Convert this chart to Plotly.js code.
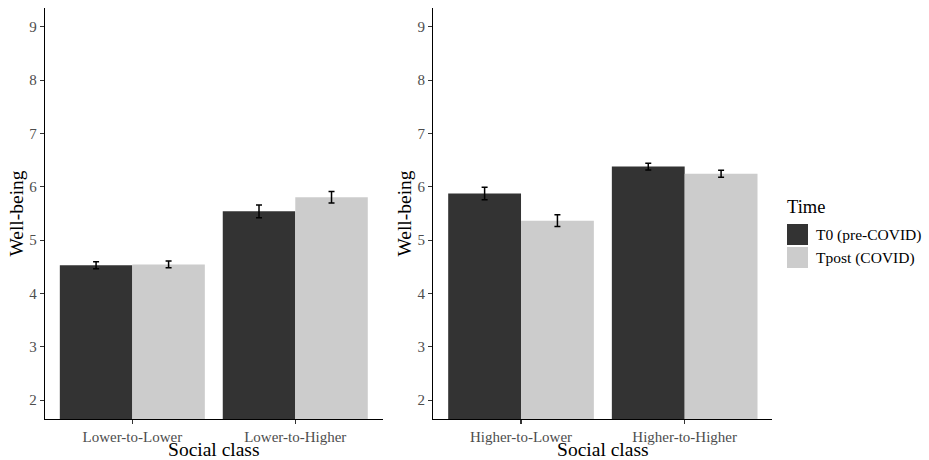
<!DOCTYPE html>
<html>
<head>
<meta charset="utf-8">
<script src="https://cdn.plot.ly/plotly-3.0.1.min.js"></script>
<style>html,body{margin:0;padding:0;background:#fff;}#chart{width:929px;height:460px;}</style>
</head>
<body>
<div id="chart"></div>
<script>
// Data
const leftCategories = ["Lower-to-Lower", "Lower-to-Higher"];
const rightCategories = ["Higher-to-Lower", "Higher-to-Higher"];
const seriesNames = ["T0 (pre-COVID)", "Tpost (COVID)"];
const leftT0 = [4.53, 5.54];
const leftT0Err = [0.066, 0.12];
const leftTpost = [4.545, 5.805];
const leftTpostErr = [0.065, 0.11];
const rightT0 = [5.875, 6.38];
const rightT0Err = [0.116, 0.062];
const rightTpost = [5.365, 6.245];
const rightTpostErr = [0.11, 0.066];
const yTicks = [2, 3, 4, 5, 6, 7, 8, 9];
const legendTitle = "Time";

const colors = ["#333333", "#CCCCCC"];
const FONT = "Liberation Serif, Times New Roman, serif";
const BASE = 1.645;
function heights(v) { return v.map(d => d - BASE); }

function barTrace(x, y, err, idx, xa, ya) {
  return {
    type: "bar", x: x, y: heights(y), name: seriesNames[idx], xaxis: xa, yaxis: ya,
    marker: {color: colors[idx], line: {width: 0}},
    base: BASE,
    showlegend: false,
    error_y: {type: "data", array: err, visible: true, color: "#000", thickness: 1.5, width: 3}
  };
}

const traces = [
  barTrace(leftCategories, leftT0, leftT0Err, 0, "x", "y"),
  barTrace(leftCategories, leftTpost, leftTpostErr, 1, "x", "y"),
  barTrace(rightCategories, rightT0, rightT0Err, 0, "x2", "y2"),
  barTrace(rightCategories, rightTpost, rightTpostErr, 1, "x2", "y2")
];

const yDom = [1 - 419/460, 1 - 8/460];
function xAxis(dom, anchor) {
  return {
    domain: dom, anchor: anchor, type: "category", range: [-0.536, 1.536],
    showline: true, linecolor: "#000", linewidth: 1.2,
    ticks: "outside", ticklen: 4, tickcolor: "#333", tickwidth: 1.1,
    tickfont: {family: FONT, size: 15, color: "#4D4D4D"},
    showgrid: false, zeroline: false,
    title: {text: "Social class", font: {family: FONT, size: 19.5, color: "#000"}, standoff: 0}
  };
}
function yAxis(anchor) {
  return {
    domain: yDom, anchor: anchor, range: [BASE, 9.355],
    tickvals: yTicks, ticktext: yTicks.map(String),
    showline: true, linecolor: "#000", linewidth: 1.2,
    ticks: "outside", ticklen: 4, tickcolor: "#333", tickwidth: 1.1,
    tickfont: {family: FONT, size: 15, color: "#4D4D4D"},
    showgrid: false, zeroline: false,
    title: {text: "Well-being", font: {family: FONT, size: 19.5, color: "#000"}, standoff: 0}
  };
}

const layout = {
  width: 929, height: 460,
  margin: {l: 0, r: 0, t: 0, b: 0},
  paper_bgcolor: "#fff", plot_bgcolor: "#fff",
  barmode: "group", bargap: 0.11, bargroupgap: 0,
  showlegend: false,
  font: {family: FONT},
  xaxis: xAxis([45/929, 382.6/929], "y"),
  yaxis: yAxis("x"),
  xaxis2: xAxis([433.3/929, 772.4/929], "y2"),
  yaxis2: yAxis("x2"),
  shapes: [
    {type: "rect", xref: "paper", yref: "paper", x0: 787/929, x1: 808/929, y0: 1-245/460, y1: 1-224/460, fillcolor: colors[0], line: {width: 0}},
    {type: "rect", xref: "paper", yref: "paper", x0: 787/929, x1: 808/929, y0: 1-268/460, y1: 1-247/460, fillcolor: colors[1], line: {width: 0}}
  ],
  annotations: [
    {xref: "paper", yref: "paper", x: 785/929, y: 1-207/460, xanchor: "left", yanchor: "middle", text: legendTitle, showarrow: false, font: {family: FONT, size: 18.5, color: "#000"}},
    {xref: "paper", yref: "paper", x: 814/929, y: 1-235/460, xanchor: "left", yanchor: "middle", text: seriesNames[0], showarrow: false, font: {family: FONT, size: 15.5, color: "#000"}},
    {xref: "paper", yref: "paper", x: 814/929, y: 1-258/460, xanchor: "left", yanchor: "middle", text: seriesNames[1], showarrow: false, font: {family: FONT, size: 15.5, color: "#000"}}
  ]
};

Plotly.newPlot("chart", traces, layout, {displayModeBar: false, staticPlot: true});
</script>
</body>
</html>
